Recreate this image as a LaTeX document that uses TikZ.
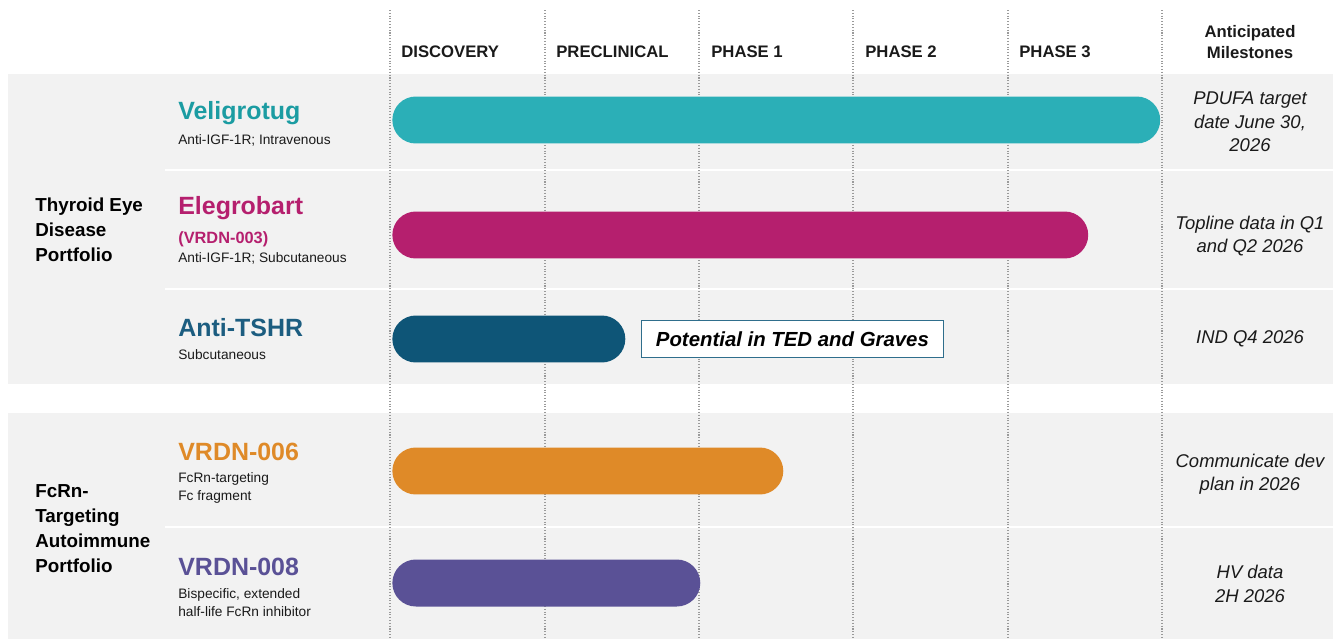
\documentclass[tikz,border=0pt]{standalone}
\usepackage{fontspec}
\setmainfont{Liberation Sans}
\usetikzlibrary{positioning}

\definecolor{panelgray}{HTML}{F2F2F2}
\definecolor{gridgray}{HTML}{9A9A9A}
\definecolor{veligcol}{HTML}{2BAFB7}
\definecolor{veligtxt}{HTML}{1B9CA2}
\definecolor{elegcol}{HTML}{B51F6E}
\definecolor{tshrcol}{HTML}{0E5577}
\definecolor{tshrtxt}{HTML}{1C5D80}
\definecolor{vsixcol}{HTML}{DF8A28}
\definecolor{veightcol}{HTML}{5A5196}
\definecolor{boxedge}{HTML}{2F6E8C}
\definecolor{inkgray}{HTML}{1A1A1A}

\begin{document}
\begin{tikzpicture}[x=0.02cm, y=-0.02cm,
  stage/.style={anchor=west, inner sep=0pt, text=inkgray, font=\fontsize{9.5}{11.5}\selectfont\bfseries},
  drug/.style={anchor=west, inner sep=0pt, font=\fontsize{14.2}{16}\selectfont\bfseries},
  route/.style={anchor=west, inner sep=0pt, align=left, text=inkgray, font=\fontsize{7.8}{10.2}\selectfont},
  portfolio/.style={anchor=west, inner sep=0pt, align=left, text=black, font=\fontsize{10.7}{14.2}\selectfont\bfseries},
  milestone/.style={inner sep=0pt, align=center, text=inkgray, font=\fontsize{10.5}{13.3}\selectfont\itshape},
  bar/.style={anchor=west, rectangle, rounded corners=0.47cm, minimum height=0.94cm, inner sep=0pt},
  grid line/.style={gridgray, densely dotted, line width=0.6pt}]
\useasboundingbox (0,0) rectangle (1343,639);

% portfolio panels and row separators
\fill[panelgray] (8,74) rectangle (1333,384);
\fill[panelgray] (8,413) rectangle (1333,639);
\foreach \y in {170, 289, 527}
  \draw[white, line width=1.2pt] (165,\y) -- (1333,\y);

\foreach \x in {390, 545, 699, 853, 1008, 1162}
  \draw[grid line] (\x,10) -- (\x,639);

% column heads
\foreach \l/\x [count=\i] in {DISCOVERY/401, PRECLINICAL/556, PHASE 1/711, PHASE 2/865, PHASE 3/1019}
  \node[stage] (stage-\i) at (\x,52) {\l};
\node[stage, anchor=center, align=center] (stage-6) at (1250,42) {Anticipated\\Milestones};

% bars
\foreach \c/\w/\y [count=\i] in {veligcol/15.36/120, elegcol/13.92/235, tshrcol/4.66/339, vsixcol/7.82/471, veightcol/6.16/583}
  \node[bar, fill=\c, minimum width=\w cm] (bar-\i) at (392,\y) {};

\node[draw=boxedge, line width=0.9pt, fill=white, minimum width=6.04cm, minimum height=0.74cm,
  inner sep=0pt, font=\fontsize{11.6}{13}\selectfont\bfseries\itshape, right=0.3cm of bar-3] (ted-box)
  {Potential in TED and Graves};

% drug names and routes
\foreach \n/\c/\y [count=\i] in {Veligrotug/veligtxt/113, Elegrobart/elegcol/208, Anti-TSHR/tshrtxt/328, VRDN-006/vsixcol/452, VRDN-008/veightcol/567}
  \node[drug, text=\c] (drug-\i) at (178,\y) {\n};
\node[drug, text=elegcol, font=\fontsize{9.3}{11}\selectfont\bfseries] (drug-2-code) at (178,239) {(VRDN-003)};

\foreach \t/\y [count=\i] in {{Anti-IGF-1R; Intravenous}/140, {Anti-IGF-1R; Subcutaneous}/258, Subcutaneous/355,
    {FcRn-targeting\\Fc fragment}/488, {Bispecific, extended\\half-life FcRn inhibitor}/603}
  \node[route] (route-\i) at (178,\y) {\t};

\node[portfolio] (ted) at (35,230) {Thyroid Eye\\Disease\\Portfolio};
\node[portfolio] (fcrn) at (35,529) {FcRn-\\Targeting\\Autoimmune\\Portfolio};

% milestones
\foreach \t/\y [count=\i] in {{PDUFA target\\date June 30,\\2026}/122, {Topline data in Q1\\and Q2 2026}/236,
    {IND Q4 2026}/339, {Communicate dev\\plan in 2026}/474, {HV data\\2H 2026}/584}
  \node[milestone] (milestone-\i) at (1250,\y) {\t};
\end{tikzpicture}
\end{document}
